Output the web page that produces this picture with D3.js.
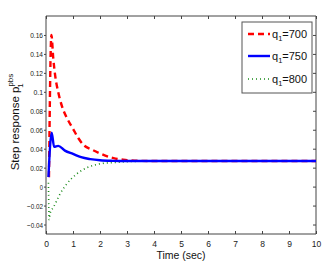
<!DOCTYPE html>
<html>
<head>
<meta charset="utf-8">
<script src="https://cdn.jsdelivr.net/npm/d3@7"></script>
<style>
  body { margin: 0; background: #fff; }
  svg { display: block; font-family: "Liberation Sans", Arial, sans-serif; }
</style>
</head>
<body>
<svg id="chart" width="333" height="273"></svg>
<script>
// series (time in sec, response value)
var tRed = [0.11, 0.2, 0.27, 0.34, 0.45, 0.59, 0.8, 1.0, 1.2, 1.39, 1.7, 2.0, 2.5, 3.0, 3.5, 4.0, 10];
var vRed = [0.01, 0.16, 0.135, 0.117, 0.10, 0.085, 0.071, 0.061, 0.051, 0.044, 0.039, 0.035, 0.030, 0.028, 0.0272, 0.027, 0.027];

var tBlue = [0.09, 0.21, 0.3, 0.45, 0.7, 1.0, 1.3, 1.64, 2.0, 2.5, 3.0, 10];
var vBlue = [0.01, 0.057, 0.042, 0.043, 0.038, 0.0345, 0.031, 0.029, 0.0278, 0.0272, 0.027, 0.027];

var tGreen = [0.09, 0.12, 0.15, 0.27, 0.4, 0.52, 0.77, 1.14, 1.52, 2.0, 2.64, 3.2, 4.0, 10];
var vGreen = [0.004, -0.035, -0.0285, -0.022, -0.0148, -0.0077, 0.0028, 0.0134, 0.020, 0.024, 0.0257, 0.0265, 0.027, 0.027];

var xTicks = [0, 1, 2, 3, 4, 5, 6, 7, 8, 9, 10];
var yTicks = [-0.04, -0.02, 0, 0.02, 0.04, 0.06, 0.08, 0.1, 0.12, 0.14, 0.16];
var legendLabels = ["700", "750", "800"];

var svg = d3.select("#chart");
var pLeft = 46, pRight = 316, pTop = 16, pBottom = 234;

var x = d3.scaleLinear().domain([0, 10]).range([pLeft, pRight]);
var y = d3.scaleLinear().domain([-0.05, 0.18]).range([pBottom, pTop]);

var axisColor = "#444";

// bottom axis with labels, ticks inward
var gx = svg.append("g")
  .attr("transform", "translate(0," + pBottom + ")")
  .call(d3.axisBottom(x).tickValues(xTicks).tickSize(-3).tickPadding(7).tickFormat(d3.format("d")));
// top axis, ticks only
var gxt = svg.append("g")
  .attr("transform", "translate(0," + pTop + ")")
  .call(d3.axisTop(x).tickValues(xTicks).tickSize(-3).tickFormat(""));
// left axis with labels
var gy = svg.append("g")
  .attr("transform", "translate(" + pLeft + ",0)")
  .call(d3.axisLeft(y).tickValues(yTicks).tickSize(2).tickPadding(1).tickFormat(function (d) {
    return d3.format("~g")(+d.toFixed(2));
  }));
// right axis, ticks only
var gyr = svg.append("g")
  .attr("transform", "translate(" + pRight + ",0)")
  .call(d3.axisRight(y).tickValues(yTicks).tickSize(-3).tickFormat(""));

[gx, gxt, gy, gyr].forEach(function (g) {
  g.select(".domain").attr("stroke", axisColor);
  g.selectAll(".tick line").attr("stroke", axisColor);
  g.selectAll(".tick text").attr("fill", "#222").attr("font-size", "8.5px");
});
gx.selectAll(".domain").attr("d", "M" + pLeft + ",0H" + pRight);
gxt.selectAll(".domain").attr("d", "M" + pLeft + ",0H" + pRight);
gy.selectAll(".domain").attr("d", "M0," + pTop + "V" + pBottom);
gyr.selectAll(".domain").attr("d", "M0," + pTop + "V" + pBottom);
gy.selectAll(".tick text").attr("font-size", "8px").attr("textLength", function () {
  return this.textContent.length * 3.2;
}).attr("lengthAdjust", "spacingAndGlyphs");

function pts(ts, vs) {
  return ts.map(function (t, i) { return [t, vs[i]]; });
}

var line = d3.line()
  .x(function (d) { return x(d[0]); })
  .y(function (d) { return y(d[1]); })
  .curve(d3.curveMonotoneX);

var series = [
  { data: pts(tGreen, vGreen), color: "#1a8a1a", width: 1.6, dash: "1,3" },
  { data: pts(tRed, vRed), color: "#ff0000", width: 2.4, dash: "6,4" },
  { data: pts(tBlue, vBlue), color: "#0000ff", width: 2.4, dash: null }
];

svg.append("g").selectAll("path")
  .data(series)
  .enter()
  .append("path")
  .attr("d", function (d) { return line(d.data); })
  .attr("fill", "none")
  .attr("stroke", function (d) { return d.color; })
  .attr("stroke-width", function (d) { return d.width; })
  .attr("stroke-dasharray", function (d) { return d.dash; });

// axis titles
svg.append("text")
  .attr("x", 181)
  .attr("y", 259)
  .attr("text-anchor", "middle")
  .attr("font-size", "10.5px")
  .attr("fill", "#111")
  .text("Time (sec)");

var yl = svg.append("text")
  .attr("transform", "translate(19,122) rotate(-90)")
  .attr("text-anchor", "middle")
  .attr("font-size", "11.5px")
  .attr("fill", "#111");
yl.append("tspan").text("Step response  p");
yl.append("tspan").attr("font-size", "8px").attr("dy", -6).text("pbs");
yl.append("tspan").attr("font-size", "8px").attr("dx", -14).attr("dy", 10).text("1");

// legend
var lg = svg.append("g");
lg.append("rect")
  .attr("x", 242).attr("y", 22)
  .attr("width", 70).attr("height", 71)
  .attr("fill", "#fff")
  .attr("stroke", "#555")
  .attr("stroke-width", 1);

var legendSeries = [series[1], series[2], series[0]];
var rowY = [34, 56, 79];
legendSeries.forEach(function (s, i) {
  lg.append("line")
    .attr("x1", 248).attr("x2", 270)
    .attr("y1", rowY[i]).attr("y2", rowY[i])
    .attr("stroke", s.color)
    .attr("stroke-width", s.width)
    .attr("stroke-dasharray", s.dash);
  var t = lg.append("text")
    .attr("x", 272)
    .attr("y", rowY[i] + 4)
    .attr("font-size", "11px")
    .attr("fill", "#111");
  t.append("tspan").text("q");
  t.append("tspan").attr("font-size", "7.5px").attr("dy", 3).text("1");
  t.append("tspan").attr("dy", -3).text("=" + legendLabels[i]);
});
</script>
</body>
</html>
